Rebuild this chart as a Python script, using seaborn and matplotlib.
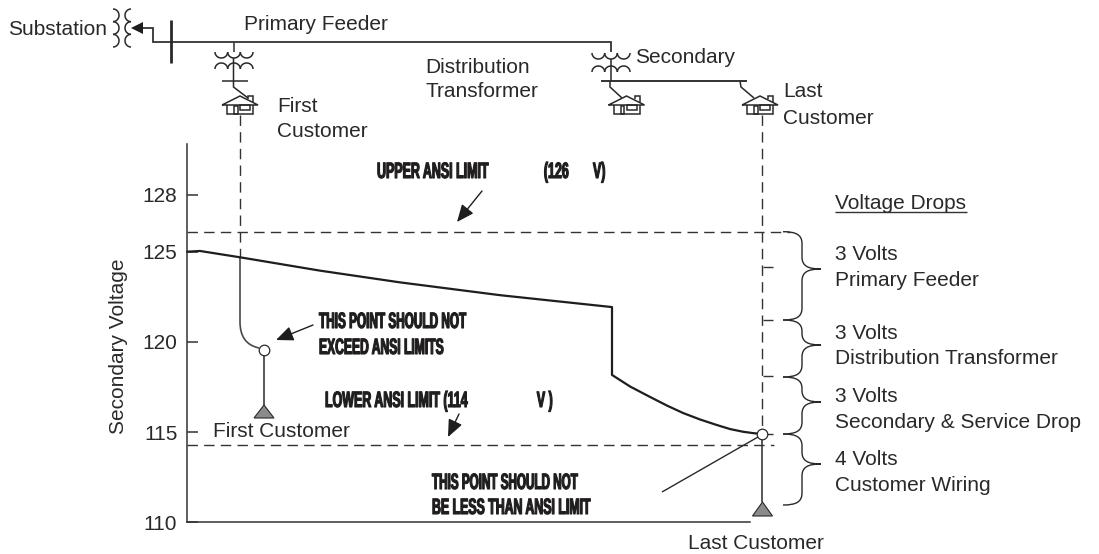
import numpy as np
import pandas as pd
import seaborn as sns
import matplotlib
matplotlib.use("Agg")
import matplotlib.pyplot as plt
from matplotlib.path import Path
from matplotlib.patches import PathPatch, Polygon, Rectangle
from matplotlib.patheffects import AbstractPathEffect
from matplotlib.transforms import Affine2D

# ---- data ----
feeder_pos = [187, 200, 240, 320, 400, 500, 612, 612, 630, 650, 667, 683, 700, 717, 730, 743, 755, 762]
feeder_volts = [125.0, 125.04, 124.69, 123.95, 123.3, 122.59, 121.93, 118.17, 117.53, 116.95, 116.47,
                116.06, 115.70, 115.39, 115.17, 115.02, 114.93, 114.92]
upper_limit = 126.1
lower_limit = 114.3
customer_pos = [264, 762]
customer_volts = [119.55, 114.92]
ytick_values = [110, 115, 120, 125, 128.15]
ytick_labels = ["110", "115", "120", "125", "128"]
drop_levels_px = [267, 320, 376, 434]

INK = "#2b2829"
LINE = "#343233"

sns.set_theme(style="white", rc={"axes.facecolor": "none"})
plt.rcParams["font.family"] = ["Liberation Sans", "DejaVu Sans"]
plt.rcParams["text.color"] = INK

W, H = 1099, 554
fig = plt.figure(figsize=(W / 100, H / 100), dpi=100, facecolor="white")
ax_px = fig.add_axes([0, 0, 1, 1], zorder=0)
ax_px.set_xlim(0, W)
ax_px.set_ylim(H, 0)
ax_px.axis("off")

ax = fig.add_axes([0, 0, 1, 1], zorder=1)
ax.set_xlim(0, W)
ax.set_ylim(108.243, 138.952)


def volts_from_px(y):
    return 110 + (522.3 - y) / 18.04


# ---- voltage profile ----
profile = pd.DataFrame({"pos": feeder_pos, "volts": feeder_volts})
sns.lineplot(data=profile, x="pos", y="volts", ax=ax, color="#1f1d1e", linewidth=1.6,
             estimator=None, sort=False, errorbar=None)
dash = (0, (7.5, 4.5))
sns.lineplot(x=[187, 790], y=[upper_limit, upper_limit], ax=ax, color=LINE, linewidth=1.0, linestyle=dash, errorbar=None)
sns.lineplot(x=[187, 774], y=[lower_limit, lower_limit], ax=ax, color=LINE, linewidth=1.0, linestyle=dash, errorbar=None)
sns.scatterplot(x=customer_pos, y=customer_volts, ax=ax, s=58, color="white", edgecolor=INK,
                linewidth=0.9, zorder=6)

ax.set_xlabel("")
ax.set_xticks([])
ax.set_yticks(ytick_values)
ax.set_yticklabels(ytick_labels)
ax.tick_params(axis="y", direction="in", length=8, width=1.1, color=LINE, pad=7, left=True,
               labelsize=15, labelcolor=INK)
for s in ("top", "right"):
    ax.spines[s].set_visible(False)
ax.spines["left"].set_position(("data", 187))
ax.spines["left"].set_bounds(110, volts_from_px(144))
ax.spines["bottom"].set_position(("data", 110))
ax.spines["bottom"].set_bounds(187, 750)
for s in ("left", "bottom"):
    ax.spines[s].set_color(LINE)
    ax.spines[s].set_linewidth(1.1)
ax.set_ylabel("Secondary Voltage", fontsize=15, color=INK, va="center")
ax.yaxis.set_label_coords(118, 346, transform=ax_px.transData)


# ---- schematic helpers ----
def line(xs, ys, lw=1.1, color=LINE, **kw):
    ax_px.plot(xs, ys, color=color, lw=lw, solid_capstyle="butt", solid_joinstyle="miter", **kw)


def coil_h(x0, x1, y, n, h, up):
    w = (x1 - x0) / n
    for i in range(n):
        t = np.linspace(0, np.pi, 30)
        xs = x0 + w * i + w / 2 - w / 2 * np.cos(t)
        ys = y + (-h if up else h) * np.sin(t)
        line(xs, ys, lw=1.1, color=INK)


def coil_v(x, y0, y1, n, h):
    w = (y1 - y0) / n
    for i in range(n):
        t = np.linspace(0, np.pi, 30)
        ys = y0 + w * i + w / 2 - w / 2 * np.cos(t)
        xs = x + h * np.sin(t)
        line(xs, ys, lw=1.1, color=INK)


def house(x):
    # x is the left eave end
    line([x, x + 18, x + 36, x], [105, 96, 105, 105], lw=1.1, color=INK)
    line([x + 5, x + 5, x + 31, x + 31], [105, 113.7, 113.7, 105], lw=1.1, color=INK)
    line([x + 26, x + 26, x + 31, x + 31], [99, 95.5, 95.5, 102], lw=1.1, color=INK)
    ax_px.add_patch(Rectangle((x + 12, 106), 3.5, 7.7, fill=False, ec=INK, lw=1.1))
    ax_px.add_patch(Rectangle((x + 18, 105), 10, 4.5, fill=False, ec=INK, lw=1.1))


def triangle(xc, y_top, y_base, half):
    ax_px.add_patch(Polygon([[xc, y_top], [xc - half, y_base], [xc + half, y_base]], closed=True,
                            fc="#8b8b8d", ec=INK, lw=0.8, zorder=5))


def brace(t, tip, b, x0=783, xm=802, xt=821):
    r1 = min(12, (tip - t) / 2 - 1)
    r2 = min(12, (b - tip) / 2 - 1)
    verts = [(x0, t), (x0 + 13, t), (xm, t + 3), (xm, t + r1),
             (xm, tip - r1),
             (xm, tip - 3), (xm + 6, tip), (xt, tip),
             (xm + 6, tip), (xm, tip + 3), (xm, tip + r2),
             (xm, b - r2),
             (xm, b - 3), (x0 + 13, b), (x0, b)]
    codes = [Path.MOVETO, Path.CURVE4, Path.CURVE4, Path.CURVE4, Path.LINETO,
             Path.CURVE4, Path.CURVE4, Path.CURVE4,
             Path.CURVE4, Path.CURVE4, Path.CURVE4, Path.LINETO,
             Path.CURVE4, Path.CURVE4, Path.CURVE4]
    ax_px.add_patch(PathPatch(Path(verts, codes), fill=False, ec=INK, lw=1.0))


def arrow(start, tip):
    ax_px.annotate("", xy=tip, xytext=start,
                   arrowprops=dict(arrowstyle="-|>,head_length=0.7,head_width=0.3", mutation_scale=15,
                                   shrinkA=0, shrinkB=0, lw=1.0, color="#1f1d1e"))


# ---- one-line schematic ----
coil_v(113, 9, 47, 3, 6)
coil_v(131, 9, 47, 3, -6)
ax_px.add_patch(Polygon([[131, 28], [143, 22], [143, 34]], closed=True, fc="#1f1d1e", ec="none"))
line([143, 153, 153, 611, 611], [28, 28, 42, 42, 52], lw=1.3)
line([171, 171], [20, 63], lw=2.0, color=INK)

line([233.5, 233.5], [42, 52], lw=1.1)
coil_h(215, 253, 52, 3, 6, False)
coil_h(215, 253, 69, 3, 6, True)
line([233.5, 233.5, 248], [58, 87, 98], lw=1.1, color=INK)
line([222, 248], [81, 81], lw=1.1, color=INK)
house(222)

coil_h(592, 630, 53, 3, 6, False)
coil_h(592, 630, 72, 3, 6, True)
line([611, 611], [59, 81], lw=1.1, color=INK)
line([601, 747], [81, 81], lw=1.4)
line([610, 610, 622], [81, 87, 98], lw=1.1, color=INK)
line([740, 741, 754], [81, 87, 98], lw=1.1, color=INK)
house(608.5)
house(742)

# ---- drop lines and customer points ----
ax_px.plot([240, 240], [115, 257], color=LINE, lw=1.0, linestyle=dash)
ax_px.plot([762.3, 762.3], [115, 430], color=LINE, lw=1.0, linestyle=dash)
ax_px.add_patch(PathPatch(Path([(240, 257), (240, 322), (240, 344), (259, 348)],
                               [Path.MOVETO, Path.LINETO, Path.CURVE3, Path.CURVE3]),
                          fill=False, ec="#4a4849", lw=1.2))
line([264, 264], [355, 405], lw=1.1, color=INK)
triangle(264, 405, 418, 10)
line([762.3, 762.3], [439, 502], lw=1.1, color=INK)
triangle(762.5, 502, 516, 10)
line([662, 758], [492, 437], lw=1.0, color=INK)
for yp in drop_levels_px:
    line([763, 773], [yp, yp], lw=1.0)
brace(231.7, 269, 320)
brace(320, 345, 377)
brace(377, 402, 434)
brace(434, 464, 505)
arrow((482, 191), (457, 222))
arrow((459, 414), (448, 437))
arrow((313, 325), (276, 340))

# ---- labels ----
labels = [
    ("Substation", 8, 35), ("Primary Feeder", 244, 30), ("First", 277, 112), ("Customer", 277, 137),
    ("Secondary", 635, 63), ("Distribution", 425, 73), ("Transformer", 425, 97),
    ("Last", 783, 97), ("Customer", 783, 124), ("First Customer", 213, 437),
    ("Voltage Drops", 835, 209), ("3 Volts", 835, 260), ("Primary Feeder", 835, 286),
    ("3 Volts", 835, 339), ("Distribution Transformer", 835, 364), ("3 Volts", 835, 402),
    ("Secondary & Service Drop", 835, 428), ("4 Volts", 835, 465), ("Customer Wiring", 835, 491),
    ("Last Customer", 688, 549),
]
for s, x, y in labels:
    ax_px.text(x, y, s, fontsize=15, color=INK, ha="left", va="baseline")
line([835, 967], [212, 212], lw=1.0)


class Squeeze(AbstractPathEffect):
    """Narrow the glyphs horizontally to imitate a condensed display face."""

    def __init__(self, sx, lw=0.8):
        super().__init__()
        self.sx, self.lw = sx, lw

    def draw_path(self, renderer, gc, tpath, affine, rgbFace=None):
        g = renderer.new_gc()
        g.copy_properties(gc)
        g.set_linewidth(self.lw)
        g.set_foreground("#1f1d1e")
        renderer.draw_path(g, tpath, Affine2D().scale(self.sx, 1) + affine, rgbFace)
        g.restore()


stencil = [
    ("UPPER ANSI LIMIT" + " " * 16 + "(126" + " " * 7 + "V)", 377, 178, 0.56),
    ("THIS POINT SHOULD NOT", 319, 328, 0.53), ("EXCEED ANSI LIMITS", 319, 354, 0.545),
    ("LOWER ANSI LIMIT (114" + " " * 20 + "V )", 325, 407, 0.56),
    ("THIS POINT SHOULD NOT", 432, 489, 0.525), ("BE LESS THAN ANSI LIMIT", 432, 514, 0.555),
]
for s, x, y, sx in stencil:
    t = ax_px.text(x, y, s, fontsize=16, fontweight="bold", color="#1f1d1e", ha="left", va="baseline")
    t.set_path_effects([Squeeze(sx)])

fig.savefig("out.png", dpi=100, facecolor="white")
